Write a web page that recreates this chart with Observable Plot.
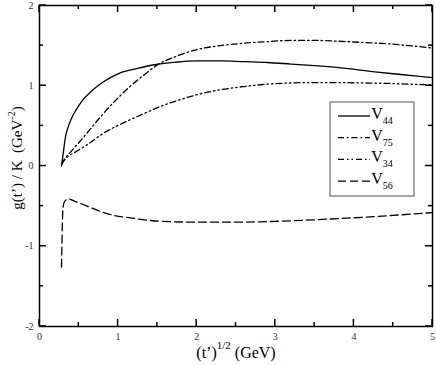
<!DOCTYPE html>
<html><head><meta charset="utf-8">
<script src="https://cdn.jsdelivr.net/npm/d3@7"></script>
<script src="https://cdn.jsdelivr.net/npm/@observablehq/plot@0.6"></script>
<style>body{margin:0;background:#fff} #chart svg{display:block;background:#fff}</style>
</head><body><div id="chart"></div><script>
const seriesNames = ["V44", "V75", "V34", "V56"];
const seriesSub = ["44", "75", "34", "56"];
const seriesDash = [null, "6,3,1.5,3", "6,3,1.5,3,1.5,3", "8,4"];

const v44X = [0.28,0.29,0.31,0.33,0.37,0.42,0.46,0.55,0.67,0.8,0.92,1.05,1.22,1.35,1.48,1.7,2.0,2.3,2.6,2.9,3.2,3.5,3.96,4.3,4.6,5.0];
const v44Y = [0.0,0.07,0.22,0.36,0.5,0.62,0.69,0.82,0.94,1.04,1.11,1.17,1.21,1.24,1.265,1.29,1.31,1.31,1.30,1.29,1.27,1.25,1.21,1.17,1.14,1.10];

const v75X = [0.28,0.31,0.4,0.5,0.63,0.8,0.97,1.15,1.35,1.5,1.75,2.0,2.3,2.6,2.9,3.2,3.5,3.8,4.1,4.4,4.7,5.0];
const v75Y = [0.02,0.07,0.18,0.29,0.44,0.64,0.82,0.99,1.15,1.26,1.37,1.45,1.50,1.53,1.55,1.565,1.565,1.555,1.54,1.525,1.50,1.47];

const v34X = [0.28,0.33,0.45,0.63,0.8,1.05,1.3,1.56,1.8,2.05,2.3,2.6,2.9,3.2,3.5,3.8,4.1,4.4,4.7,5.0];
const v34Y = [0.02,0.09,0.17,0.28,0.40,0.53,0.64,0.75,0.83,0.90,0.95,0.99,1.02,1.035,1.04,1.04,1.035,1.03,1.02,1.01];

const v56X = [0.28,0.285,0.29,0.30,0.32,0.37,0.45,0.63,0.88,1.18,1.56,2.05,2.5,3.0,3.5,4.0,4.5,5.0];
const v56Y = [-1.26,-1.0,-0.75,-0.51,-0.44,-0.41,-0.44,-0.51,-0.60,-0.65,-0.69,-0.70,-0.70,-0.69,-0.67,-0.645,-0.615,-0.58];

const xMajor = [0,1,2,3,4,5];
const xMinor = [0.5,1.5,2.5,3.5,4.5];
const yMajor = [-2,-1,0,1,2];
const yMinor = [-1.5,-0.5,0.5,1.5];

const xs = [v44X, v75X, v34X, v56X];
const ys = [v44Y, v75Y, v34Y, v56Y];
const rows = [];
seriesNames.forEach((name, i) => xs[i].forEach((x, j) => rows.push({series: name, x, y: ys[i][j]})));

const lineMarks = seriesNames.map((name, i) =>
  Plot.line(rows.filter(r => r.series === name), {
    x: "x", y: "y", stroke: "black", strokeWidth: 1.3,
    strokeDasharray: seriesDash[i] || undefined, curve: "monotone-x"
  }));

const W = 436, H = 365, ML = 39, MR = 4, MT = 5, MB = 39;
const MAJ = 7, MIN = 4;

const fmt = d => String(d);
const plot = Plot.plot({
  width: W, height: H,
  marginLeft: ML, marginRight: MR, marginTop: MT, marginBottom: MB,
  x: {domain: [0, 5]},
  y: {domain: [-2, 2]},
  style: {fontFamily: "Liberation Serif", fontSize: "10px", color: "black", background: "white"},
  marks: [
    Plot.frame({stroke: "black", strokeWidth: 1.5}),
    Plot.axisX(xMajor, {anchor: "bottom", tickSize: 0, tickPadding: 6, label: null, tickFormat: fmt, fill: "#333"}),
    Plot.axisY(yMajor, {anchor: "left", tickSize: 0, tickPadding: 6, label: null, tickFormat: fmt, fill: "#333"}),
    ...lineMarks
  ]
});
document.getElementById("chart").append(plot);

const svg = d3.select(plot);
const sx = plot.scale("x"), sy = plot.scale("y");
const x0 = ML, x1 = W - MR, y0 = MT, y1 = H - MB;
// inward ticks on all four sides, positioned through Plot's scales
const tg = svg.append("g");
const tick = (a, b, c, d) => tg.append("line").attr("x1", a).attr("y1", b).attr("x2", c).attr("y2", d)
  .attr("stroke", "black").attr("stroke-width", 1.5);
const addX = (vals, len) => vals.forEach(v => {
  const px = sx.apply(v);
  tick(px, y1, px, y1 - len);
  tick(px, y0, px, y0 + len);
});
const addY = (vals, len) => vals.forEach(v => {
  const py = sy.apply(v);
  tick(x0, py, x0 + len, py);
  tick(x1, py, x1 - len, py);
});
addX(xMajor, MAJ); addX(xMinor, MIN); addY(yMajor, MAJ); addY(yMinor, MIN);

// x title
const xt = svg.append("text").attr("x", 236).attr("y", 358).attr("text-anchor", "middle")
  .style("font-family", "Liberation Serif").style("font-size", "16px").attr("fill", "black");
xt.append("tspan").text("(t\u2019)");
xt.append("tspan").attr("dy", -9).style("font-size", "11px").text("1/2");
xt.append("tspan").attr("dy", 9).text(" (GeV)");
// y title
const yt = svg.append("text").attr("transform", "translate(22,158) rotate(-90)").attr("text-anchor", "middle")
  .style("font-family", "Liberation Serif").style("font-size", "15px").attr("fill", "black");
yt.append("tspan").text("g(t\u2019) / K  (GeV");
yt.append("tspan").attr("dy", -7).style("font-size", "10px").text("-2");
yt.append("tspan").attr("dy", 7).text(")");

// legend
const lg = svg.append("g");
lg.append("rect").attr("x", 330).attr("y", 102).attr("width", 84).attr("height", 94)
  .attr("fill", "white").attr("stroke", "#555").attr("stroke-width", 1);
seriesNames.forEach((name, i) => {
  const cy = 116 + i * 21.7;
  lg.append("line").attr("x1", 338).attr("x2", 370).attr("y1", cy).attr("y2", cy)
    .attr("stroke", "black").attr("stroke-width", 1.3)
    .attr("stroke-dasharray", seriesDash[i] || null);
  const t = lg.append("text").attr("x", 382).attr("y", cy + 3)
    .style("font-family", "Liberation Serif").style("font-size", "16px").attr("fill", "black");
  t.append("tspan").text("V");
  t.append("tspan").attr("dy", 5).style("font-size", "10px").text(seriesSub[i]);
});
</script></body></html>
